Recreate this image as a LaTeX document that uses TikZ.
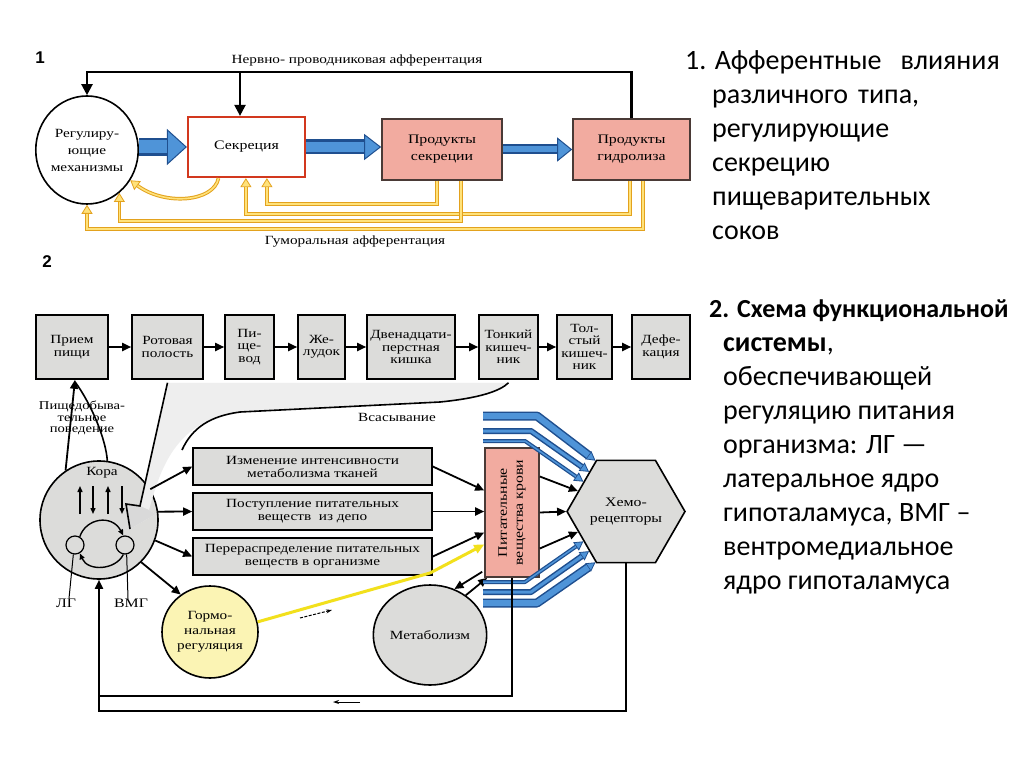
\documentclass[tikz,border=0pt]{standalone}
\usepackage{fontspec}
\setmainfont{Liberation Serif}[FakeStretch=1.22]
\newfontfamily\carl{Carlito}
\newfontfamily\lsans{Liberation Sans}
\usetikzlibrary{arrows.meta,shapes.geometric,calc}
\definecolor{boxgray}{HTML}{DCDCDA}
\definecolor{pinkf}{HTML}{F2ABA0}
\definecolor{pinkd}{HTML}{4A3A36}
\definecolor{secred}{HTML}{D2381E}
\definecolor{bdark}{HTML}{1F4F8F}
\definecolor{blight}{HTML}{4F94D8}
\definecolor{yelD}{HTML}{E3A21E}
\definecolor{yelL}{HTML}{FFE27A}
\definecolor{hormY}{HTML}{FBF4B4}
\definecolor{brightY}{HTML}{F2E01C}
\newcommand\myfs[2]{\fontsize{#1}{#2}\selectfont}
\newcommand\bigarr[6]{%
  \draw[draw=bdark, line width=#3, -{Triangle[length=#6, width=#5, line width=1pt, fill=blight]}] #1 -- #2;
  \draw[draw=blight, line width=#4, shorten >=#6] #1 -- #2;}
\newcommand\bline[3]{%
  \draw[draw=bdark, line width=#2, line join=round, -{Triangle[length=9pt, width=10pt, line width=0.8pt, fill=blight]}] #1;
  \draw[draw=blight, line width=#3, line join=round, shorten >=9pt] #1;}
\newcommand\yline[1]{%
  \draw[draw=yelD, line width=3.6pt, -{Triangle[length=9pt, width=11pt, line width=0.8pt, fill=yelL]}] #1;
  \draw[draw=yelL, line width=1.6pt, shorten >=9pt] #1;}
\begin{document}
\begin{tikzpicture}[x=1pt,y=-1pt,
  bx/.style={draw, line width=1.6pt, fill=boxgray, align=center, inner sep=0pt, font=\myfs{12.5}{12.5}},
  pinkbox/.style={draw=pinkd, line width=1.6pt, fill=pinkf, align=center, inner sep=0pt, font=\myfs{13}{17}},
  ar/.style={line width=1.8pt, -{Triangle[length=9pt,width=8pt]}},
  ar1/.style={line width=2.2pt, -{Triangle[length=11pt,width=11pt]}},
  ln/.style={line width=1.6pt},
  rt/.style={anchor=base west, inner sep=0pt, font=\carl\myfs{28}{28}},
  lbl/.style={inner sep=0pt, font=\myfs{12.5}{13}, align=center}]
\useasboundingbox (0,0) rectangle (1024,767);
\fill[white] (0,0) rectangle (1024,767);

% ---------- labels 1, 2
\node[font=\lsans\bfseries\myfs{17}{17}] (n1) at (40,58) {1};
\node[font=\lsans\bfseries\myfs{17}{17}] (n2) at (47,262) {2};

% ---------- Part 1
\node[ellipse, draw, line width=1.6pt, fill=white, minimum width=98pt, minimum height=108pt, inner sep=0pt, align=center, font=\myfs{12.5}{17}] (reg) at (87,150) {Регулиру-\\ющие\\механизмы};
\node[draw=secred, line width=2.2pt, fill=white, minimum width=117pt, minimum height=60pt, font=\myfs{13}{15}] (sec) at (246.5,147) {Секреция};
\node[pinkbox, minimum width=120pt, minimum height=61pt] (ps) at (442,149.5) {Продукты\\секреции};
\node[pinkbox, minimum width=117pt, minimum height=61pt] (pg) at (631.5,149.5) {Продукты\\гидролиза};

\node[lbl, font=\myfs{12.5}{12.5}] (tnerv) at (357,60) {Нервно- проводниковая афферентация};
\node[lbl, font=\myfs{12.5}{12.5}] (thum) at (355,242) {Гуморальная афферентация};

\draw[ar1] (pg.north) -- ++(0,-46) -| (reg.north);
\coordinate (tj) at (240,73);
\draw[ar1] (tj) -- (tj |- sec.north);

\bigarr{(reg.east |- sec.west)}{(sec.west)}{18pt}{13pt}{36pt}{20pt}
\bigarr{(sec.east)}{(sec.east -| ps.west)}{15pt}{10pt}{26pt}{17pt}
\bigarr{(ps.east |- pg.west)}{(pg.west)}{10pt}{6pt}{24pt}{15pt}

\yline{([xshift=-28pt]sec.south) .. controls (214,202) and (165,206) .. (reg.-35)}
\yline{([xshift=-5pt]ps.south) -- ++(0,23) -| ([xshift=80pt]sec.south west)}
\yline{([xshift=-1.5pt]pg.south) -- ++(0,33) -| ([xshift=59pt]sec.south west)}
\yline{([xshift=19pt]ps.south) -- ++(0,40) -| (reg.-53)}
\yline{([xshift=11.5pt]pg.south) -- ++(0,48) -| (reg.south)}

% ---------- Part 2 : top row
\node[bx, minimum width=72pt, minimum height=64pt] (pp) at (72,347) {Прием\\пищи};
\node[bx, minimum width=71pt, minimum height=64pt] (rp) at (167.5,347) {Ротовая\\полость};
\node[bx, minimum width=49pt, minimum height=64pt] (pv) at (249.5,347) {Пи-\\ще-\\вод};
\node[bx, minimum width=47pt, minimum height=64pt] (zh) at (321.5,347) {Же-\\лудок};
\node[bx, minimum width=88pt, minimum height=64pt] (dk) at (411,347) {Двенадцати-\\перстная\\кишка};
\node[bx, minimum width=59pt, minimum height=64pt] (tk) at (508.5,347) {Тонкий\\кишеч-\\ник};
\node[bx, minimum width=55pt, minimum height=64pt] (tl) at (584.5,347) {Тол-\\стый\\кишеч-\\ник};
\node[bx, minimum width=58pt, minimum height=64pt] (df) at (661,347) {Дефе-\\кация};
\draw[ar] (pp) -- (rp);
\draw[ar] (rp) -- (pv);
\draw[ar] (pv) -- (zh);
\draw[ar] (zh) -- (dk);
\draw[ar] (dk) -- (tk);
\draw[ar] (tk) -- (tl);
\draw[ar] (tl) -- (df);

% Kora
\node[circle, draw, line width=1.6pt, fill=boxgray, minimum size=118pt, inner sep=0pt] (kora) at (99,520) {};
\node[lbl] (korat) at (102,473) {Кора};

% gray absorption wedge
\fill[gray!13] ([yshift=-3pt]rp.south) -- (140,506) -- (126,504) -- (130,529) -- (156,514) -- (149,510)
   .. controls (160,470) and (175,420) .. (240,412) -- (440,402) .. controls (480,398) and (500,391) .. ([yshift=-3pt]tk.south) -- cycle;
\fill[gray!30] (140,506) -- (126,504) -- (130,529) -- (156,514) -- (149,510) -- cycle;
\draw[ln] ([yshift=-3pt]rp.south) -- (140,506) -- (126,504) -- (130,529);
\draw[ln] ([yshift=-3pt]tk.south) .. controls (500,391) and (480,398) .. (440,402) -- (240,412) .. controls (210,416) and (192,428) .. (182,450);
\node[lbl] (vsas) at (397,417) {Всасывание};

% food-seeking behaviour
\draw[ln] (kora.82) .. controls (106,440) and (92,405) .. ([xshift=3pt,yshift=-2pt]pp.south);
\draw[ar] (kora.124) -- ([xshift=3pt]pp.south);
\node[lbl, font=\myfs{12}{11.5}] (pbeh) at (82,418) {Пищедобыва-\\тельное\\поведение};

% inside Kora
\foreach \xx/\dd in {80/1,93/-1,108/1,122/-1}{
  \ifnum\dd=1
    \draw[line width=1.4pt, -{Triangle[length=6pt,width=5pt]}] (\xx,514) -- (\xx,486);
  \else
    \draw[line width=1.4pt, -{Triangle[length=6pt,width=5pt]}] (\xx,486) -- (\xx,514);
  \fi}
\node[circle, draw, line width=1.2pt, fill=boxgray, minimum size=18pt, inner sep=0pt] (lg) at (75,545) {};
\node[circle, draw, line width=1.2pt, fill=boxgray, minimum size=18pt, inner sep=0pt] (vmg) at (125,545) {};
\draw[line width=1.4pt, -{Triangle[length=6pt,width=5pt]}] (lg.60) .. controls (86,518) and (112,514) .. (vmg.100);
\draw[line width=1.4pt, -{Triangle[length=6pt,width=5pt]}] (vmg.-100) .. controls (116,570) and (88,572) .. (lg.-60);
\node[lbl, font=\myfs{13}{13}] (lgt) at (66,603) {ЛГ};
\node[lbl, font=\myfs{13}{13}] (vmgt) at (131,603) {ВМГ};
\draw[line width=1pt] ([xshift=3pt]lgt.north) -- (lg.-100);
\draw[line width=1pt] ([xshift=-3pt]vmgt.north) -- (vmg.-80);

% middle boxes
\node[bx, minimum width=239pt, minimum height=37pt, font=\myfs{12.5}{13}] (m1) at (312.5,466.5) {Изменение интенсивности\\метаболизма тканей};
\node[bx, minimum width=239pt, minimum height=37pt, font=\myfs{12.5}{13}] (m2) at (312.5,511.5) {Поступление питательных\\веществ\ \ из депо};
\node[bx, minimum width=239pt, minimum height=37pt, font=\myfs{12.5}{13}] (m3) at (312.5,556.5) {Перераспределение питательных\\веществ в организме};

% blood nutrients
\node[pinkbox, minimum width=54pt, minimum height=129pt] (pvk) at (512,512.5) {};
\node[lbl, rotate=90, font=\myfs{13}{16}] (pvkt) at (pvk.center) {Питательные\\вещества крови};

% chemoreceptors
\node[regular polygon, regular polygon sides=6, draw, line width=1.6pt, fill=boxgray, minimum size=114pt, inner sep=0pt, align=center, font=\myfs{13}{16}] (hex) at (626,511.5) {Хемо-\\рецепторы};

% circles
\node[ellipse, draw, line width=1.6pt, fill=boxgray, minimum width=94pt, minimum height=100pt, inner sep=0pt, font=\myfs{12.5}{13}] (meta) at (430,635) {Метаболизм};
\node[ellipse, draw, line width=1.6pt, fill=hormY, minimum width=96pt, minimum height=92pt, inner sep=0pt, align=center, font=\myfs{12.5}{15}] (gorm) at (210,632) {Гормо-\\нальная\\регуляция};

% arrows from Kora
\draw[ar] (kora.31) -- (m1.west);
\draw[ar] (kora.8) -- (m2.west);
\draw[ar] (kora.-20) -- (m3.west);
\draw[ar] (kora.-45) -- (gorm.128);

% arrows to blood
\draw[ar] (m1.east) -- ([yshift=22pt]pvk.west);
\draw[ar] (m2.east) -- (m2.east -| pvk.west);
\draw[ar] (m3.east) -- ([yshift=-20pt]pvk.west);
\draw[draw=brightY, line width=3pt, -{Triangle[length=10pt,width=9pt,fill=brightY]}] (gorm.12) -- (430,573) -- ([yshift=-32pt]pvk.west);
\draw[ar] ([xshift=-2pt,yshift=6pt]pvk.south west) -- (meta.62);
\draw[ar] (meta.48) -- ([xshift=3pt]pvk.south west);

% blood -> chemoreceptors
\draw[ar] ([yshift=36pt]pvk.east) -- (hex.157);
\draw[ar] (pvk.east) -- (hex.west);
\draw[ar] ([yshift=-36pt]pvk.east) -- (hex.-157);

% blue inputs
\coordinate (bt1) at (483,416);
\coordinate (bt2) at (483,431);
\coordinate (bt3) at (483,441);
\coordinate (bb1) at (483,582);
\coordinate (bb2) at (483,592);
\coordinate (bb3) at (483,603);
\bline{(bt1) -- (537,416) -- (hex.121)}{9pt}{6pt}
\bline{(bt2) -- (531,431) -- (hex.133)}{6pt}{3pt}
\bline{(bt3) -- (525,441) -- (hex.145)}{4pt}{1.5pt}
\bline{(bb1) -- (525,582) -- (hex.-145)}{4pt}{1.5pt}
\bline{(bb2) -- (531,592) -- (hex.-133)}{6pt}{3pt}
\bline{(bb3) -- (537,603) -- (hex.-121)}{9pt}{6pt}

% feedback loops
\draw[line width=1.6pt] (pvk.south) |- ([yshift=-116pt]kora.south);
\draw[ar] (hex.south) |- ([yshift=-131pt]kora.south) -- (kora.south);

% small direction marks
\coordinate (sa1) at (360,702);
\coordinate (sa2) at (333,702);
\draw[line width=1pt, -{Stealth[length=6pt,width=4pt]}] (sa1) -- (sa2);
\coordinate (sb1) at (300,618);
\coordinate (sb2) at (332,610);
\draw[line width=1pt, dash pattern=on 3pt off 1.5pt, -{Stealth[length=6pt,width=4pt]}] (sb1) -- (sb2);

% ---------- right-hand text
\node[rt] (r1a) at (685,70) {1. Афферентные};
\node[rt, anchor=base east] (r1b) at (1000,70) {влияния};
\node[rt] (r2a) at (712,104) {различного};
\node[rt] (r2b) at (858,104) {типа,};
\node[rt] (r3) at (712,138) {регулирующие};
\node[rt] (r4) at (712,172) {секрецию};
\node[rt] (r5) at (712,206) {пищеварительных};
\node[rt] (r6) at (712,240) {соков};

\node[rt, font=\carl\myfs{26}{26}] (s1) at (709,317) {\bfseries 2. Схема функциональной};
\node[rt] (s2) at (723,351) {\textbf{системы},};
\node[rt] (s3) at (723,385) {обеспечивающей};
\node[rt] (s4) at (723,419) {регуляцию питания};
\node[rt] (s5) at (723,453) {организма: ЛГ —};
\node[rt] (s6) at (723,487) {латеральное ядро};
\node[rt] (s7) at (723,521) {гипоталамуса, ВМГ –};
\node[rt] (s8) at (723,555) {вентромедиальное};
\node[rt] (s9) at (723,589) {ядро гипоталамуса};
\end{tikzpicture}
\end{document}
